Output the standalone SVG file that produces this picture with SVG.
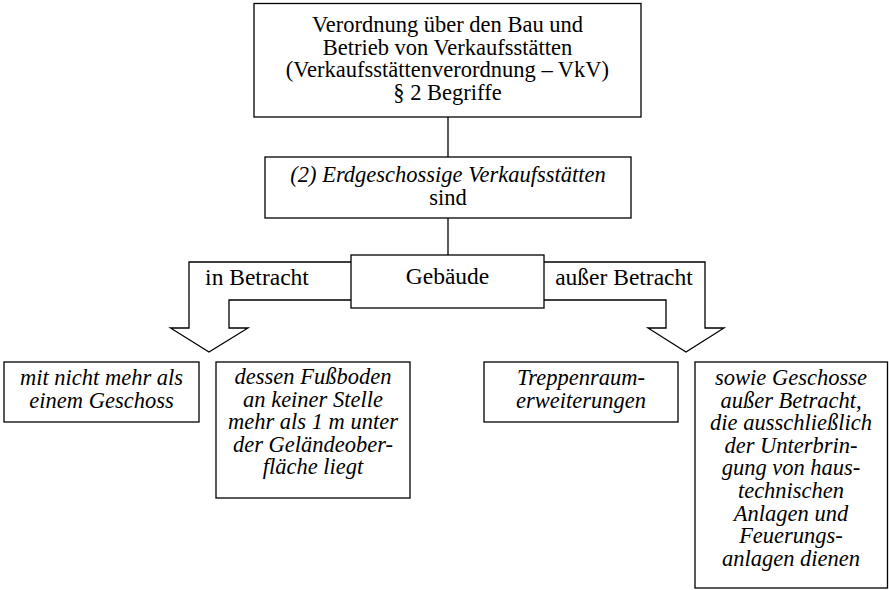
<svg xmlns="http://www.w3.org/2000/svg" width="889" height="590" viewBox="0 0 889 590">
<style>
.box{fill:#fff;stroke:#000;stroke-width:1.3}
.ln{fill:none;stroke:#000;stroke-width:1.3}
text{font-family:"Liberation Serif","Times New Roman",serif;font-size:22.5px;fill:#000;text-anchor:middle}
.it{font-style:italic}
</style>
<rect width="889" height="590" fill="#fff"/>
<g id="connectors">
<line class="ln" x1="448" y1="117" x2="448" y2="157"/>
<line class="ln" x1="448" y1="218" x2="448" y2="255"/>
<path class="ln" d="M351,262 H189 V328 H170.5 L209,352 L248,328 H229 V300 H351"/>
<path class="ln" d="M544,262 H705 V328 H724 L686,352 L648,328 H666 V300 H544"/>
<text x="257" y="285" style="font-size:23.5px">in Betracht</text>
<text x="624" y="285" style="font-size:23.5px">außer Betracht</text>
</g>
<g id="title">
<rect class="box" x="254" y="3.5" width="387" height="113.5"/>
<text x="447.5" y="32">Verordnung über den Bau und<tspan x="447.5" dy="22.6">Betrieb von Verkaufsstätten</tspan><tspan x="447.5" dy="22.6">(Verkaufsstättenverordnung – VkV)</tspan><tspan x="447.5" dy="22.6">§ 2 Begriffe</tspan></text>
</g>
<g id="erdgeschossig">
<rect class="box" x="265" y="157" width="366" height="61"/>
<text x="448" y="182"><tspan style="font-style:italic">(2) Erdgeschossige Verkaufsstätten</tspan><tspan x="448" dy="22.6">sind</tspan></text>
</g>
<g id="gebaeude">
<rect class="box" x="351" y="255" width="193" height="53"/>
<text x="447.5" y="283.5" style="font-size:23.5px">Gebäude</text>
</g>
<g id="geschoss">
<rect class="box" x="4" y="362" width="195" height="60"/>
<text class="it" x="101.5" y="385">mit nicht mehr als<tspan x="101.5" dy="22.6">einem Geschoss</tspan></text>
</g>
<g id="fussboden">
<rect class="box" x="216" y="362" width="194" height="136"/>
<text class="it" x="313" y="384">dessen Fußboden<tspan x="313" dy="22.6">an keiner Stelle</tspan><tspan x="313" dy="22.6">mehr als 1 m unter</tspan><tspan x="313" dy="22.6">der Geländeober-</tspan><tspan x="313" dy="22.6">fläche liegt</tspan></text>
</g>
<g id="treppenraum">
<rect class="box" x="484" y="362" width="194" height="60"/>
<text class="it" x="581" y="385">Treppenraum-<tspan x="581" dy="22.6">erweiterungen</tspan></text>
</g>
<g id="geschosse">
<rect class="box" x="695" y="362" width="192.5" height="226"/>
<text class="it" x="791" y="385">sowie Geschosse<tspan x="791" dy="22.6">außer Betracht,</tspan><tspan x="791" dy="22.6">die ausschließlich</tspan><tspan x="791" dy="22.6">der Unterbrin-</tspan><tspan x="791" dy="22.6">gung von haus-</tspan><tspan x="791" dy="22.6">technischen</tspan><tspan x="791" dy="22.6">Anlagen und</tspan><tspan x="791" dy="22.6">Feuerungs-</tspan><tspan x="791" dy="22.6">anlagen dienen</tspan></text>
</g>
</svg>
